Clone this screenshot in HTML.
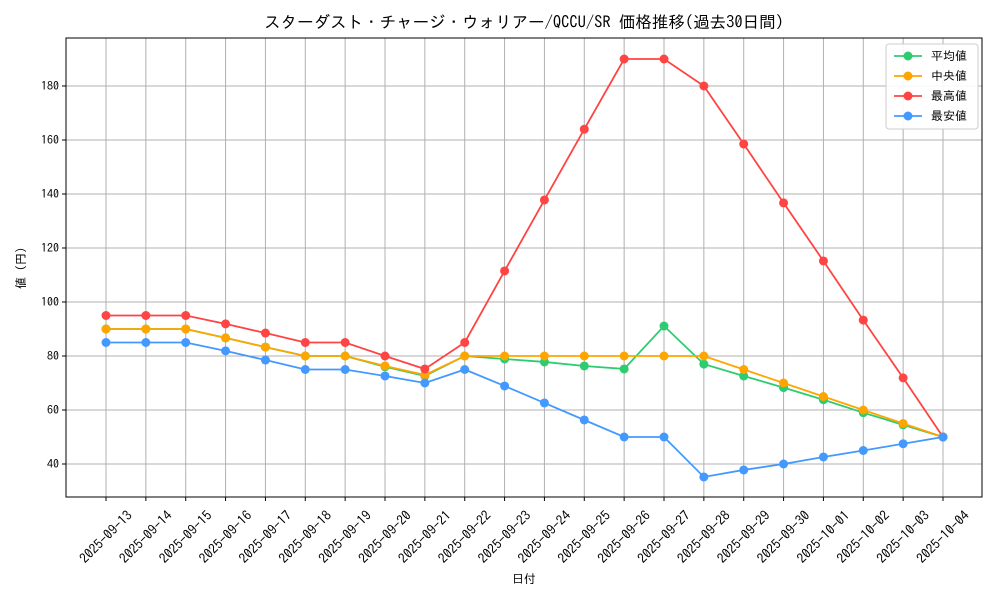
<!DOCTYPE html>
<html><head><meta charset="utf-8"><style>
html,body{margin:0;padding:0;background:#fff;}
svg{display:block;font-family:"IPAGothic","Liberation Sans","Noto Sans CJK JP",sans-serif;}
</style></head><body>
<svg id="chart" width="1000" height="600" viewBox="0 0 1000 600"></svg>
<script>
const dates=["2025-09-13","2025-09-14","2025-09-15","2025-09-16","2025-09-17","2025-09-18","2025-09-19","2025-09-20","2025-09-21","2025-09-22","2025-09-23","2025-09-24","2025-09-25","2025-09-26","2025-09-27","2025-09-28","2025-09-29","2025-09-30","2025-10-01","2025-10-02","2025-10-03","2025-10-04"];
const meanVals=[90,90,90,86.7,83.3,80,80,76,72.6,80,78.9,77.8,76.3,75.2,91.1,77,72.6,68.3,63.8,59,54.5,50];
const medianVals=[90,90,90,86.7,83.3,80,80,76.3,73,80,80,80,80,80,80,80,75,70,65,60,55,50];
const maxVals=[95,95,95,91.9,88.5,85,85,80,75.2,85,111.5,137.8,164,190,190,180,158.5,136.7,115.2,93.3,71.9,50];
const minVals=[85,85,85,81.9,78.5,75,75,72.6,70,75,68.9,62.6,56.3,50,50,35.2,37.8,40,42.6,45,47.5,50];
const yTicks=[40,60,80,100,120,140,160,180];
const seriesNames=["平均値","中央値","最高値","最安値"];
const seriesColors=["#2ecc71","#ffa500","#ff4444","#4499ff"];
const seriesData=[meanVals,medianVals,maxVals,minVals];

const svg=document.getElementById('chart');
const NS="http://www.w3.org/2000/svg";
const L=66,R=982,T=38,B=497;
function xs(i){return 106+i*(943-106)/(dates.length-1);}
function ys(v){return 464-(v-40)*2.7;}
function mk(tag,attrs,parent){const e=document.createElementNS(NS,tag);for(const k in attrs)e.setAttribute(k,attrs[k]);(parent||svg).appendChild(e);return e;}

const grid=mk('g',{});


dates.forEach((d,i)=>{mk('line',{x1:xs(i),x2:xs(i),y1:T,y2:B,stroke:'#b0b0b0','stroke-width':1},grid);});
yTicks.forEach(v=>{mk('line',{x1:L,x2:R,y1:ys(v),y2:ys(v),stroke:'#b0b0b0','stroke-width':1},grid);});
const frame=mk('rect',{x:L,y:T,width:R-L,height:B-T,fill:'none',stroke:'#000','stroke-width':1});



yTicks.forEach(v=>{
 mk('line',{x1:L-4,x2:L,y1:ys(v),y2:ys(v),stroke:'#000'});
 const t=mk('text',{x:L-7,y:ys(v)+4,'text-anchor':'end','font-size':12});
 t.textContent=v;
 
 
});
dates.forEach((d,i)=>{
 mk('line',{x1:xs(i),x2:xs(i),y1:B,y2:B+4,stroke:'#000'});
 const cx=xs(i), cy=537;
 const t=mk('text',{x:cx,y:cy+4.5,'text-anchor':'middle','font-size':13.5,transform:`rotate(-45 ${cx} ${cy})`});
 t.textContent=d;
 
 
});

seriesData.forEach((vals,s)=>{
 const g=mk('g',{});
 
 
 mk('polyline',{points:vals.map((v,i)=>xs(i)+','+ys(v)).join(' '),fill:'none',stroke:seriesColors[s],'stroke-width':1.8},g);
 vals.forEach((v,i)=>{const c=mk('circle',{cx:xs(i),cy:ys(v),r:4.5,fill:seriesColors[s]},g);
  
  });
});

const title=mk('text',{x:524,y:28,'text-anchor':'middle','font-size':16.5});
title.textContent="スターダスト・チャージ・ウォリアー/QCCU/SR 価格推移(過去30日間)";


const xt=mk('text',{x:524,y:583,'text-anchor':'middle','font-size':12});
xt.textContent="日付";


const yt=mk('text',{x:25,y:268,'text-anchor':'middle','font-size':12,transform:'rotate(-90 25 268)'});
yt.textContent="値 (円)";



const lg=mk('g',{});


mk('rect',{x:886,y:44,width:92,height:85,rx:3,fill:'#fff',stroke:'#ccc','fill-opacity':0.9},lg);
seriesNames.forEach((n,s)=>{
 const y=56+s*20;
 const e=mk('g',{},lg);
 
 
 mk('line',{x1:894,x2:922,y1:y,y2:y,stroke:seriesColors[s],'stroke-width':1.8},e);
 mk('circle',{cx:908,cy:y,r:4.5,fill:seriesColors[s]},e);
 const t=mk('text',{x:931,y:y+4,'font-size':12},e);
 t.textContent=(s==1?' ':'')+n;
});
</script>
</body></html>
